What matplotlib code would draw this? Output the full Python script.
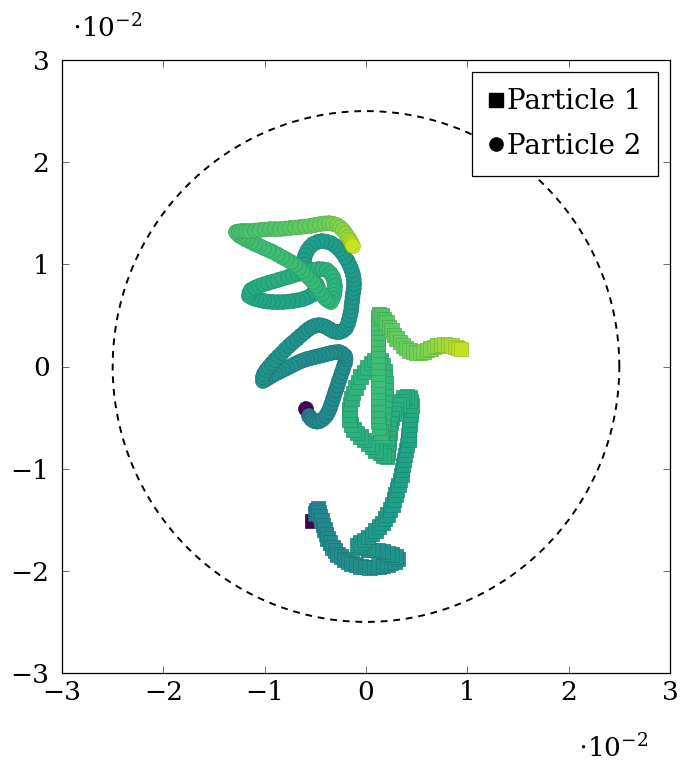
import numpy as np
import matplotlib
matplotlib.use("Agg")
import matplotlib.pyplot as plt
from matplotlib.lines import Line2D
from matplotlib.colors import Normalize

# ---- data (positions in units of 1e-2, colour = normalised time) ----
p1_x = [-0.533, -0.503, -0.49, -0.474, -0.465, -0.454, -0.44, -0.424, -0.41, -0.395,
        -0.376, -0.355, -0.332, -0.306, -0.278, -0.247, -0.213, -0.178, -0.139, -0.099,
        -0.055, -0.010, 0.035, 0.079, 0.124, 0.168, 0.208, 0.247, 0.283, 0.316,
        0.287, 0.257, 0.213, 0.168, 0.118, 0.069, 0.020, -0.030, -0.062, -0.089,
        -0.055, -0.020, 0.020, 0.059, 0.094, 0.128, 0.160, 0.188, 0.214, 0.237,
        0.258, 0.276, 0.292, 0.306, 0.321, 0.336, 0.346, 0.355, 0.365, 0.375,
        0.385, 0.395, 0.405, 0.415, 0.420, 0.424, 0.429, 0.434, 0.439, 0.444,
        0.446, 0.444, 0.428, 0.405, 0.373, 0.346, 0.320, 0.296, 0.275, 0.257,
        0.246, 0.237, 0.232, 0.227, 0.222, 0.217, 0.212, 0.207, 0.172, 0.138,
        0.098, 0.059, 0.020, -0.020, -0.055, -0.089, -0.120, -0.148, -0.161, -0.168,
        -0.166, -0.158, -0.145, -0.128, -0.105, -0.079, -0.050, -0.020, 0.015, 0.049,
        0.084, 0.118, 0.147, 0.168, 0.180, 0.188, 0.194, 0.197, 0.193, 0.188,
        0.183, 0.178, 0.173, 0.168, 0.163, 0.158, 0.140, 0.128, 0.122, 0.118,
        0.118, 0.118, 0.118, 0.118, 0.118, 0.118, 0.118, 0.118, 0.118, 0.118,
        0.118, 0.118, 0.118, 0.118, 0.118, 0.118, 0.121, 0.128, 0.150, 0.178,
        0.203, 0.227, 0.251, 0.276, 0.305, 0.336, 0.365, 0.395, 0.430, 0.464,
        0.498, 0.533, 0.568, 0.602, 0.637, 0.671, 0.705, 0.740, 0.775, 0.809,
        0.844, 0.879, 0.908, 0.938]
p1_y = [-1.512, -1.443, -1.41, -1.394, -1.43, -1.463, -1.51, -1.551, -1.595, -1.639,
        -1.684, -1.727, -1.768, -1.805, -1.837, -1.864, -1.891, -1.913, -1.930, -1.942,
        -1.954, -1.962, -1.964, -1.962, -1.958, -1.952, -1.939, -1.923, -1.905, -1.884,
        -1.862, -1.844, -1.828, -1.815, -1.805, -1.796, -1.787, -1.776, -1.762, -1.747,
        -1.722, -1.698, -1.669, -1.639, -1.605, -1.570, -1.532, -1.492, -1.449, -1.404,
        -1.355, -1.306, -1.257, -1.208, -1.160, -1.111, -1.062, -1.013, -0.964, -0.915,
        -0.866, -0.817, -0.768, -0.719, -0.670, -0.621, -0.572, -0.523, -0.474, -0.426,
        -0.382, -0.338, -0.305, -0.289, -0.305, -0.338, -0.376, -0.416, -0.460, -0.504,
        -0.553, -0.602, -0.651, -0.700, -0.749, -0.797, -0.842, -0.886, -0.868, -0.846,
        -0.818, -0.788, -0.754, -0.719, -0.686, -0.651, -0.613, -0.572, -0.524, -0.475,
        -0.421, -0.367, -0.313, -0.259, -0.205, -0.152, -0.102, -0.054, -0.008, 0.034,
        0.064, 0.083, 0.055, 0.015, -0.045, -0.103, -0.167, -0.230, -0.289, -0.347,
        -0.406, -0.465, -0.524, -0.582, -0.631, -0.680, -0.645, -0.602, -0.543, -0.484,
        -0.425, -0.367, -0.308, -0.250, -0.191, -0.132, -0.073, -0.015, 0.044, 0.103,
        0.161, 0.220, 0.274, 0.328, 0.381, 0.435, 0.478, 0.514, 0.495, 0.465,
        0.427, 0.387, 0.348, 0.308, 0.272, 0.240, 0.208, 0.181, 0.158, 0.142,
        0.135, 0.132, 0.145, 0.161, 0.177, 0.191, 0.202, 0.210, 0.212, 0.210,
        0.202, 0.191, 0.181, 0.171]
p1_c = [0.00, 0.40, 0.43, 0.45,
        0.46, 0.46, 0.46, 0.465, 0.465, 0.47, 0.47, 0.47, 0.475, 0.475,
        0.48, 0.48, 0.48, 0.485, 0.485, 0.49, 0.49, 0.49, 0.49, 0.495,
        0.495, 0.495, 0.50, 0.50, 0.50, 0.50,
        0.50, 0.505, 0.505, 0.51, 0.51, 0.51, 0.515, 0.515, 0.52, 0.52,
        0.53, 0.53, 0.535, 0.535, 0.54, 0.54, 0.545, 0.545, 0.55, 0.55,
        0.555, 0.555, 0.56, 0.56, 0.565, 0.565, 0.57, 0.57, 0.575, 0.575,
        0.58, 0.58, 0.585, 0.585, 0.59, 0.59, 0.595, 0.60, 0.605, 0.61,
        0.615, 0.62,
        0.62, 0.62, 0.62, 0.62, 0.625, 0.625, 0.625, 0.625, 0.63, 0.63,
        0.63, 0.63, 0.63, 0.63, 0.63, 0.63,
        0.63, 0.63, 0.63, 0.63, 0.635, 0.635, 0.635, 0.635, 0.64, 0.64,
        0.64, 0.64, 0.64, 0.64, 0.64, 0.64, 0.645, 0.645, 0.645, 0.645,
        0.65, 0.65, 0.65, 0.65,
        0.65, 0.65, 0.65, 0.65, 0.65, 0.655, 0.655, 0.655, 0.655, 0.655,
        0.66, 0.66, 0.66, 0.66, 0.66,
        0.66, 0.665, 0.67, 0.67, 0.675, 0.675, 0.68, 0.68, 0.685, 0.685,
        0.69, 0.69, 0.695, 0.695, 0.70, 0.70, 0.705, 0.705, 0.71, 0.71,
        0.715, 0.72,
        0.73, 0.735, 0.74, 0.745, 0.75, 0.755, 0.76, 0.765, 0.77, 0.775,
        0.78, 0.785, 0.79, 0.795, 0.80, 0.81, 0.82, 0.83, 0.84, 0.85,
        0.86, 0.87, 0.88, 0.895, 0.91]

p2_x = [-0.592, -0.563, -0.540, -0.513, -0.484, -0.454, -0.423, -0.395, -0.373, -0.355,
        -0.340, -0.326, -0.311, -0.296, -0.281, -0.267, -0.252, -0.237, -0.222, -0.207,
        -0.202, -0.207, -0.235, -0.267, -0.306, -0.346, -0.385, -0.424, -0.463, -0.503,
        -0.542, -0.582, -0.621, -0.661, -0.700, -0.740, -0.780, -0.819, -0.858, -0.898,
        -0.933, -0.967, -0.995, -1.017, -1.017, -1.007, -0.985, -0.958, -0.928, -0.898,
        -0.864, -0.829, -0.795, -0.760, -0.721, -0.681, -0.642, -0.602, -0.568, -0.533,
        -0.498, -0.464, -0.430, -0.395, -0.361, -0.326, -0.291, -0.257, -0.224, -0.197,
        -0.180, -0.168, -0.158, -0.148, -0.143, -0.138, -0.133, -0.128, -0.121, -0.118,
        -0.121, -0.128, -0.141, -0.158, -0.180, -0.207, -0.235, -0.267, -0.305, -0.346,
        -0.390, -0.434, -0.480, -0.523, -0.556, -0.582, -0.601, -0.612, -0.606, -0.592,
        -0.570, -0.543, -0.512, -0.484, -0.503, -0.533, -0.577, -0.622, -0.672, -0.721,
        -0.770, -0.819, -0.869, -0.918, -0.962, -1.007, -1.047, -1.086, -1.122, -1.155,
        -1.150, -1.135, -1.097, -1.056, -1.012, -0.967, -0.918, -0.869, -0.820, -0.770,
        -0.721, -0.671, -0.622, -0.573, -0.524, -0.474, -0.430, -0.385, -0.350, -0.326,
        -0.313, -0.306, -0.308, -0.316, -0.330, -0.346, -0.377, -0.405, -0.435, -0.464,
        -0.494, -0.523, -0.557, -0.592, -0.626, -0.661, -0.700, -0.740, -0.785, -0.829,
        -0.873, -0.918, -0.962, -1.007, -1.051, -1.096, -1.135, -1.175, -1.210, -1.244,
        -1.268, -1.283, -1.255, -1.224, -1.185, -1.145, -1.096, -1.046, -0.997, -0.948,
        -0.898, -0.849, -0.800, -0.750, -0.701, -0.652, -0.603, -0.553, -0.504, -0.454,
        -0.410, -0.365, -0.325, -0.286, -0.255, -0.227, -0.202, -0.178, -0.162, -0.148,
        -0.138, -0.128]
p2_y = [-0.416, -0.484, -0.515, -0.533, -0.540, -0.533, -0.513, -0.484, -0.447, -0.406,
        -0.362, -0.318, -0.274, -0.230, -0.186, -0.142, -0.098, -0.054, -0.010, 0.034,
        0.072, 0.103, 0.128, 0.142, 0.139, 0.132, 0.123, 0.113, 0.103, 0.093,
        0.083, 0.073, 0.060, 0.044, 0.025, 0.005, -0.015, -0.034, -0.054, -0.073,
        -0.093, -0.113, -0.130, -0.142, -0.105, -0.073, -0.038, -0.005, 0.030, 0.064,
        0.098, 0.132, 0.167, 0.201, 0.235, 0.269, 0.304, 0.338, 0.365, 0.387,
        0.400, 0.406, 0.400, 0.387, 0.367, 0.347, 0.338, 0.338, 0.352, 0.377,
        0.415, 0.455, 0.499, 0.543, 0.587, 0.631, 0.675, 0.719, 0.763, 0.807,
        0.851, 0.895, 0.940, 0.983, 1.028, 1.071, 1.112, 1.150, 1.182, 1.208,
        1.222, 1.228, 1.218, 1.199, 1.167, 1.130, 1.087, 1.042, 0.997, 0.954,
        0.914, 0.876, 0.836, 0.797, 0.745, 0.700, 0.677, 0.660, 0.648, 0.641,
        0.635, 0.631, 0.630, 0.631, 0.635, 0.641, 0.650, 0.660, 0.673, 0.690,
        0.722, 0.749, 0.770, 0.788, 0.803, 0.817, 0.832, 0.846, 0.861, 0.876,
        0.890, 0.905, 0.920, 0.934, 0.945, 0.954, 0.952, 0.944, 0.912, 0.876,
        0.832, 0.788, 0.744, 0.700, 0.664, 0.631, 0.647, 0.670, 0.710, 0.749,
        0.788, 0.827, 0.862, 0.895, 0.930, 0.964, 0.995, 1.023, 1.048, 1.071,
        1.096, 1.120, 1.140, 1.159, 1.180, 1.199, 1.219, 1.238, 1.258, 1.277,
        1.300, 1.316, 1.322, 1.326, 1.326, 1.326, 1.331, 1.336, 1.340, 1.345,
        1.345, 1.345, 1.350, 1.355, 1.360, 1.365, 1.370, 1.375, 1.385, 1.394,
        1.400, 1.404, 1.397, 1.385, 1.362, 1.336, 1.302, 1.267, 1.242, 1.218,
        1.198, 1.179]
p2_c = [0.00, 0.38, 0.42, 0.45,
        0.46, 0.46, 0.46, 0.465, 0.465, 0.465, 0.47, 0.47, 0.47, 0.47,
        0.475, 0.475, 0.475, 0.475, 0.48, 0.48, 0.48, 0.48,
        0.48, 0.48, 0.48, 0.48, 0.485, 0.485, 0.485, 0.485, 0.49, 0.49,
        0.49, 0.49, 0.49, 0.495, 0.495, 0.495, 0.495, 0.495, 0.50, 0.50,
        0.50, 0.50,
        0.50, 0.50, 0.50, 0.50, 0.50, 0.505, 0.505, 0.505, 0.505, 0.505,
        0.51, 0.51, 0.51, 0.51, 0.51, 0.51, 0.515, 0.515, 0.515, 0.515,
        0.515, 0.52, 0.52, 0.52, 0.52, 0.52, 0.52,
        0.52, 0.525, 0.525, 0.53, 0.53, 0.53, 0.535, 0.535, 0.535, 0.54,
        0.54, 0.54, 0.545, 0.545, 0.545,
        0.55, 0.55, 0.55, 0.555, 0.555, 0.555, 0.56, 0.56, 0.56, 0.565,
        0.565, 0.565, 0.57, 0.57, 0.57, 0.575, 0.575, 0.575, 0.58, 0.58,
        0.58,
        0.58, 0.585, 0.585, 0.59, 0.59, 0.59, 0.595, 0.595, 0.595, 0.60,
        0.60, 0.60, 0.605, 0.605, 0.605, 0.61, 0.61,
        0.62, 0.62, 0.62, 0.625, 0.625, 0.625, 0.63, 0.63, 0.63, 0.635,
        0.635, 0.635, 0.64, 0.64, 0.64, 0.645, 0.645, 0.645, 0.65, 0.65,
        0.65, 0.655, 0.655, 0.655, 0.66, 0.66, 0.66,
        0.67, 0.67, 0.67, 0.675, 0.675, 0.675, 0.68, 0.68, 0.68, 0.685,
        0.685, 0.685, 0.69, 0.69, 0.69, 0.695, 0.695, 0.695, 0.70, 0.70,
        0.70, 0.705, 0.705, 0.705, 0.71, 0.71,
        0.72, 0.72, 0.725, 0.725, 0.73, 0.735, 0.74, 0.745, 0.75, 0.755,
        0.76, 0.765, 0.77, 0.775, 0.78, 0.79, 0.80, 0.81, 0.82, 0.83,
        0.84, 0.86, 0.88, 0.90, 0.92]

labels = ["Particle 1", "Particle 2"]
boundary_radius = 2.5   # units of 1e-2
ticks = [-3, -2, -1, 0, 1, 2, 3]
scale = 1e-2

plt.rcParams['font.family'] = ['DejaVu Serif']
plt.rcParams['mathtext.fontset'] = 'dejavuserif'

fig = plt.figure(figsize=(6.87, 7.71), dpi=100)
ax = fig.add_axes([62/687, 1 - 673/771, 608/687, 613/771])

cmap = plt.get_cmap('viridis')
norm = Normalize(0, 1)

def draw(xs, ys, cs, marker):
    n = min(len(xs), len(ys), len(cs))
    xs = np.asarray(xs[:n]) * scale
    ys = np.asarray(ys[:n]) * scale
    cs = np.asarray(cs[:n])
    face = cmap(norm(cs))
    edge = face.copy()
    edge[:, :3] *= 0.85
    ax.scatter(xs, ys, c=face, marker=marker, s=115, edgecolors=edge,
               linewidths=0.5, zorder=3)

draw(p1_x, p1_y, p1_c, 's')
draw(p2_x, p2_y, p2_c, 'o')

th = np.linspace(0, 2 * np.pi, 400)
ax.plot(boundary_radius * scale * np.cos(th), boundary_radius * scale * np.sin(th),
        color='black', lw=1.4, linestyle=(0, (3.5, 3)), zorder=2)

ax.set_xlim(ticks[0] * scale, ticks[-1] * scale)
ax.set_ylim(ticks[0] * scale, ticks[-1] * scale)
tick_vals = [t * scale for t in ticks]
tick_lbls = [("\u2212%d" % -t) if t < 0 else "%d" % t for t in ticks]
ax.set_xticks(tick_vals)
ax.set_xticklabels(tick_lbls)
ax.set_yticks(tick_vals)
ax.set_yticklabels(tick_lbls)
ax.tick_params(direction='in', length=5, width=0.6, color='#555555',
               top=True, right=True, labelsize=19)
ax.tick_params(axis='x', pad=5)
ax.tick_params(axis='y', pad=9)
for sp in ax.spines.values():
    sp.set_linewidth(0.9)

handles = [Line2D([], [], marker='s', color='black', linestyle='none', markersize=9.5),
           Line2D([], [], marker='o', color='black', linestyle='none', markersize=9.5)]
leg = ax.legend(handles, labels, loc='upper right', fontsize=20, frameon=True,
                fancybox=False, edgecolor='black', framealpha=1,
                handlelength=0.5, handletextpad=0.15, borderpad=0.6,
                labelspacing=0.62, borderaxespad=0.42)
leg.get_frame().set_linewidth(0.9)

fig.text(72/687, 1 - 28/771, r"$\cdot10^{-2}$", fontsize=19, va='center', ha='left')
fig.text(578/687, 1 - 748/771, r"$\cdot10^{-2}$", fontsize=19, va='center', ha='left')

fig.savefig("out.png", dpi=100)
